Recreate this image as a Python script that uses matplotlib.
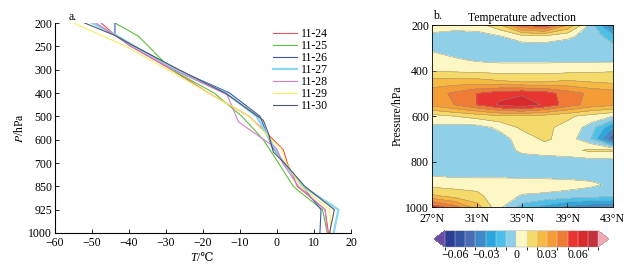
import numpy as np
import matplotlib
matplotlib.use("Agg")
import matplotlib.pyplot as plt
from matplotlib.colors import ListedColormap, BoundaryNorm

plt.rcParams['font.family'] = ['Liberation Serif', 'DejaVu Serif']
plt.rcParams['mathtext.fontset'] = 'stix'
plt.rcParams['font.size'] = 8.5
plt.rcParams['axes.unicode_minus'] = True

# ---------------- Panel a: temperature profiles ----------------
p_levels = [200, 250, 300, 400, 500, 600, 700, 850, 925, 1000]
dates = ['11-24', '11-25', '11-26', '11-27', '11-28', '11-29', '11-30']
line_colors = ['#f0505a', '#5cc13a', '#3a56b0', '#8ad6f0', '#d77cc8', '#f7f060', '#505866']

p_1124 = [200, 226, 250, 300, 400, 500, 600, 643, 700, 850, 925, 1000]
t_1124 = [-47.5, -43.8, -39.5, -28.5, -18.5, -7.5, -1.0, 1.7, 2.8, 5.5, 13.0, 13.9]
p_1125 = [200, 228, 300, 400, 500, 600, 700, 850, 868, 925, 1000]
t_1125 = [-43.8, -37.5, -28.5, -17.0, -9.5, -3.7, 0.4, 4.4, 6.2, 12.3, 13.6]
p_1126 = [200, 226, 250, 300, 400, 500, 630, 700, 850, 925, 1000]
t_1126 = [-43.8, -43.8, -38.5, -27.0, -12.8, -4.6, -1.4, 2.0, 6.8, 11.9, 11.6]
p_1127 = [200, 226, 250, 300, 400, 500, 600, 700, 850, 925, 1000]
t_1127 = [-50.0, -43.5, -38.5, -27.5, -13.8, -5.5, -2.0, 1.8, 7.0, 16.6, 15.3]
p_1128 = [200, 226, 250, 300, 407, 524, 638, 700, 850, 925, 1000]
t_1128 = [-49.0, -43.8, -39.5, -28.0, -13.5, -10.4, -0.1, 1.5, 5.8, 13.0, 13.6]
p_1129 = [200, 250, 300, 400, 500, 600, 640, 700, 850, 925, 1000]
t_1129 = [-55.0, -40.8, -29.5, -18.5, -7.5, -1.5, 1.2, 2.5, 6.5, 14.3, 14.5]
p_1130 = [200, 226, 250, 300, 400, 517, 574, 653, 700, 850, 925, 1000]
t_1130 = [-52.0, -44.0, -38.5, -26.5, -14.0, -3.7, -2.3, -1.0, 2.0, 7.5, 15.5, 14.2]

series_p = [p_1124, p_1125, p_1126, p_1127, p_1128, p_1129, p_1130]
series_t = [t_1124, t_1125, t_1126, t_1127, t_1128, t_1129, t_1130]

# ---------------- Panel b: temperature advection ----------------
lats = [27, 29, 31, 33, 35, 37, 39, 41, 43]
plevs = [200, 250, 300, 350, 400, 450, 500, 550, 600, 650, 700, 750, 800, 850, 900, 950, 1000]
adv_200 = [0.004, 0.004, 0.005, 0.018, 0.050, 0.058, 0.030, -0.003, -0.045]
adv_250 = [-0.002, -0.004, -0.004, -0.001, 0.006, 0.007, 0.002, -0.004, -0.015]
adv_300 = [-0.002, -0.006, -0.006, -0.006, -0.006, -0.006, -0.006, -0.006, -0.007]
adv_350 = [0.004, 0.001, -0.002, -0.003, -0.003, -0.003, -0.003, -0.003, -0.003]
adv_400 = [0.009, 0.008, 0.007, 0.006, 0.006, 0.006, 0.007, 0.008, 0.009]
adv_450 = [0.025, 0.025, 0.025, 0.022, 0.020, 0.020, 0.022, 0.020, 0.018]
adv_500 = [0.035, 0.042, 0.050, 0.056, 0.058, 0.055, 0.045, 0.038, 0.035]
adv_550 = [0.033, 0.040, 0.050, 0.062, 0.068, 0.058, 0.045, 0.036, 0.032]
adv_600 = [0.006, 0.010, 0.014, 0.018, 0.018, 0.016, 0.012, 0.006, 0.000]
adv_650 = [-0.002, -0.004, -0.004, 0.002, 0.012, 0.012, 0.007, -0.004, -0.030]
adv_700 = [-0.006, -0.006, -0.006, -0.004, 0.004, 0.012, 0.005, -0.008, -0.050]
adv_750 = [-0.006, -0.006, -0.006, -0.005, 0.002, 0.004, 0.006, 0.012, 0.012]
adv_800 = [-0.006, -0.006, -0.006, -0.006, -0.005, -0.005, -0.005, -0.005, -0.004]
adv_850 = [-0.002, -0.004, -0.005, -0.005, -0.005, -0.005, -0.005, -0.005, -0.004]
adv_900 = [0.006, 0.006, 0.007, 0.007, 0.006, 0.005, 0.004, 0.002, -0.002]
adv_950 = [0.022, 0.016, 0.012, 0.005, -0.001, -0.002, -0.004, -0.006, -0.008]
adv_1000 = [0.058, 0.045, 0.025, 0.002, -0.015, -0.025, -0.035, -0.040, -0.042]

adv = np.array([adv_200, adv_250, adv_300, adv_350, adv_400, adv_450, adv_500, adv_550,
                adv_600, adv_650, adv_700, adv_750, adv_800, adv_850, adv_900, adv_950, adv_1000])

cf_levels = np.round(np.arange(-0.07, 0.0801, 0.01), 3)
cf_colors = ['#2c3e94', '#3452a3', '#4a6db4', '#3e8ac8', '#2ba6df', '#4dc0ea', '#8fcfe8',
             '#fdf7c6', '#f4da6b', '#f6b942', '#f49c36', '#ef7b35', '#e9352f', '#d8292f', '#c4303b']
cbar_ticks = [-0.06, -0.03, 0, 0.03, 0.06]
cbar_labels = ['\u22120.06', '\u22120.03', '0', '0.03', '0.06']

fig = plt.figure(figsize=(6.38, 2.69), dpi=100)

# ---- panel a
ax1 = fig.add_axes([55/638, 1-233/269, 296/638, 210/269])
fwd = lambda p: np.interp(p, p_levels, np.arange(len(p_levels)))
inv = lambda y: np.interp(y, np.arange(len(p_levels)), p_levels)
ax1.set_yscale('function', functions=(fwd, inv))
for d, c, pp, tt in zip(dates, line_colors, series_p, series_t):
    lw = 1.6 if d == '11-27' else 0.8
    ax1.plot(tt, pp, color=c, lw=lw, label=d)
ax1.set_ylim(1000, 200)
ax1.set_xlim(-60, 20)
ax1.set_yticks(p_levels)
ax1.set_yticklabels([str(p) for p in p_levels])
ax1.set_xticks(range(-60, 21, 10))
ax1.minorticks_off()
ax1.tick_params(direction='in', length=3, width=0.6, labelsize=8.5)
ax1.tick_params(axis='x', pad=3)
ax1.tick_params(axis='y', pad=2)
for s in ['top', 'right']:
    ax1.spines[s].set_visible(False)
for s in ['left', 'bottom']:
    ax1.spines[s].set_linewidth(0.8)
# x label "T/℃" with italic T
ax1.annotate('T', xy=(0.48, 0), xycoords='axes fraction', xytext=(0, -20.5),
             textcoords='offset points', ha='right', va='baseline',
             fontsize=8.5, fontstyle='italic')
ax1.annotate('/\u2103', xy=(0.48, 0), xycoords='axes fraction', xytext=(0, -20.5),
             textcoords='offset points', ha='left', va='baseline', fontsize=8.5)
ax1.set_ylabel('$P$/hPa', fontsize=8.5, labelpad=2)
ax1.text(0.045, 1.0, 'a.', transform=ax1.transAxes, fontsize=8.5, ha='left', va='bottom')
leg = ax1.legend(loc='upper left', bbox_to_anchor=(0.735, 0.975), frameon=False, fontsize=8.5,
                 handlelength=2.1, handletextpad=0.3, labelspacing=0.0, borderpad=0, borderaxespad=0)

# ---- panel b
ax2 = fig.add_axes([431.7/638, 1-207.3/269, 181/638, 182.3/269])
cmap = ListedColormap(cf_colors)
cmap.set_under('#6b4aa6')
cmap.set_over('#f4a9b2')
norm = BoundaryNorm(cf_levels, cmap.N)
cs = ax2.contourf(lats, plevs, adv, levels=cf_levels, cmap=cmap, norm=norm, extend='both')
ax2.contour(lats, plevs, adv, levels=cf_levels, colors='#9a9080', linewidths=0.35)
ax2.set_ylim(1000, 200)
ax2.set_xlim(27, 43)
ax2.set_xticks([27, 31, 35, 39, 43])
ax2.set_xticklabels(['27\u00b0N', '31\u00b0N', '35\u00b0N', '39\u00b0N', '43\u00b0N'])
ax2.set_yticks([200, 400, 600, 800, 1000])
ax2.tick_params(direction='in', length=3, width=0.6, labelsize=8.5)
ax2.tick_params(axis='x', pad=4)
ax2.tick_params(axis='y', pad=2)
for s in ax2.spines.values():
    s.set_linewidth(0.6)
ax2.set_ylabel('Pressure/hPa', fontsize=8.5, labelpad=1)
ax2.set_title('Temperature advection', fontsize=8.5, pad=3)
ax2.text(0.01, 1.015, 'b.', transform=ax2.transAxes, fontsize=8.5, ha='left', va='bottom')

cax = fig.add_axes([434/638, 1-247/269, 175/638, 16.3/269])
cb = fig.colorbar(cs, cax=cax, orientation='horizontal', extendfrac=0.07, drawedges=True)
cb.set_ticks(cbar_ticks)
cb.set_ticklabels(cbar_labels)
cb.ax.tick_params(length=0, labelsize=8.5, pad=1.5)
cb.outline.set_linewidth(0.3)
cb.outline.set_edgecolor('#999999')
cb.dividers.set_color('#dddddd')
cb.dividers.set_linewidth(0.3)

fig.savefig('out.png', dpi=100)
